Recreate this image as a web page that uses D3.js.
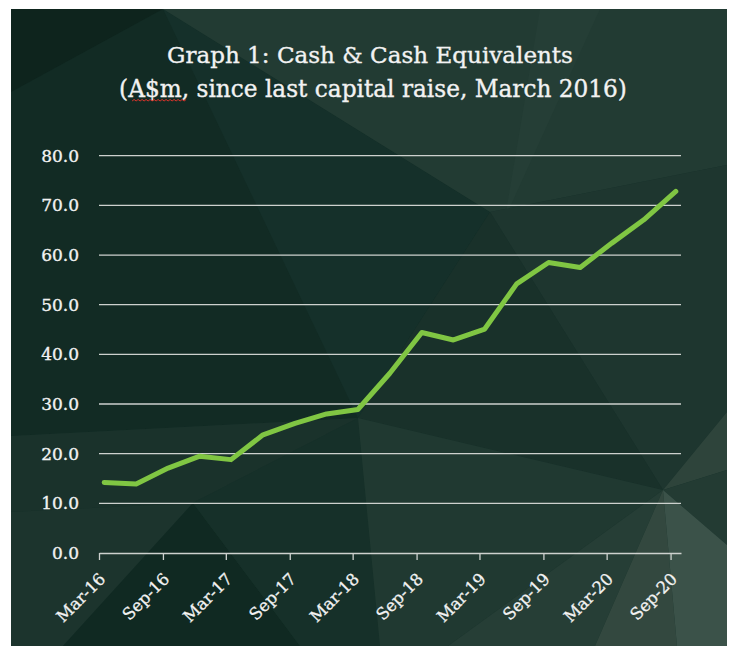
<!DOCTYPE html>
<html>
<head>
<meta charset="utf-8">
<script src="https://cdn.jsdelivr.net/npm/d3@7"></script>
<style>
  html, body { margin: 0; padding: 0; background: #ffffff; }
  svg { display: block; }
</style>
</head>
<body>
<svg id="chart" width="730" height="646"></svg>
<script>
/* ---------- data ------------------------------------------------ */
const quarters = ["2016-03","2016-06","2016-09","2016-12","2017-03","2017-06","2017-09",
                  "2017-12","2018-03","2018-06","2018-09","2018-12","2019-03","2019-06",
                  "2019-09","2019-12","2020-03","2020-06","2020-09"];
const cash     = [14.2, 13.9, 17.1, 19.5, 18.8, 23.8, 26.1, 28.0, 28.9, 36.2,
                  44.4, 42.9, 45.1, 54.2, 58.5, 57.5, 62.4, 67.1, 72.8];
const tickMonths = ["2016-03","2016-09","2017-03","2017-09","2018-03","2018-09",
                    "2019-03","2019-09","2020-03","2020-09"];
const tickLabels = ["Mar-16","Sep-16","Mar-17","Sep-17","Mar-18","Sep-18",
                    "Mar-19","Sep-19","Mar-20","Sep-20"];
const yTicks     = [0, 10, 20, 30, 40, 50, 60, 70, 80];
const titleLines = ["Graph 1: Cash & Cash Equivalents",
                    "(A$m, since last capital raise, March 2016)"];

/* ---------- background facets ----------------------------------- */
const facets = [
  {fill:"#122b24", pts:[[11,9],[163,9],[490,212],[358,418],[11,436]]},
  {fill:"#0e241d", pts:[[11,9],[163,9],[11,92]]},
  {fill:"#15302a", pts:[[163,9],[490,212],[358,418]]},
  {fill:"#223b33", pts:[[163,9],[727,9],[727,165],[490,212]]},
  {fill:"#253e36", pts:[[540,9],[600,9],[505,218]]},
  {fill:"#1e362f", pts:[[490,212],[727,165],[727,412],[663,490]]},
  {fill:"#19312a", pts:[[490,212],[663,490],[358,418]]},
  {fill:"#1a322b", pts:[[11,436],[358,418],[193,503],[11,512]]},
  {fill:"#1c342d", pts:[[11,512],[193,503],[63,646],[11,646]]},
  {fill:"#102922", pts:[[63,646],[193,503],[300,646]]},
  {fill:"#163029", pts:[[193,503],[358,418],[380,646],[300,646]]},
  {fill:"#203931", pts:[[358,418],[663,490],[448,646],[380,646]]},
  {fill:"#263e36", pts:[[663,490],[595,646],[448,646]]},
  {fill:"#33483f", pts:[[663,490],[677,646],[595,646]]},
  {fill:"#2e443b", pts:[[663,490],[727,412],[727,470]]},
  {fill:"#233b33", pts:[[663,490],[727,470],[727,545]]},
  {fill:"#3b5249", pts:[[663,490],[727,545],[727,646],[677,646]]}
];

/* ---------- layout --------------------------------------------- */
const svg = d3.select("#chart");
const panel = {x0: 11, y0: 9, x1: 727, y1: 646};
const plot  = {left: 99, right: 681, top: 155.7, bottom: 553};

svg.append("rect")
   .attr("x", panel.x0).attr("y", panel.y0)
   .attr("width", panel.x1 - panel.x0).attr("height", panel.y1 - panel.y0)
   .attr("fill", "#16302a");

svg.append("g").selectAll("polygon")
   .data(facets)
   .enter().append("polygon")
     .attr("points", d => d.pts.map(p => p.join(",")).join(" "))
     .attr("fill", d => d.fill);

/* ---------- scales ---------------------------------------------- */
const parseMonth = d3.timeParse("%Y-%m");
// each month is a bin; points sit at the middle of their month
const midMonth = s => { const t = parseMonth(s); return new Date(t.getFullYear(), t.getMonth(), 16); };

const x = d3.scaleTime()
    .domain([parseMonth("2016-03"), parseMonth("2020-10")])
    .range([plot.left, plot.right]);
const y = d3.scaleLinear()
    .domain([0, 80])
    .range([plot.bottom, plot.top]);

const gridCol = "#cdd1ce";
const textCol = "#f2f2f2";
const serif   = "'DejaVu Serif', 'Liberation Serif', serif";

/* ---------- gridlines + y labels -------------------------------- */
svg.append("g").selectAll("line")
   .data(yTicks.filter(v => v > 0))
   .enter().append("line")
     .attr("x1", plot.left).attr("x2", plot.right)
     .attr("y1", d => y(d)).attr("y2", d => y(d))
     .attr("stroke", gridCol).attr("stroke-width", 1.3);

svg.append("g").selectAll("text")
   .data(yTicks)
   .enter().append("text")
     .attr("x", 79).attr("y", d => y(d))
     .attr("dy", "0.36em")
     .attr("text-anchor", "end")
     .attr("font-family", serif).attr("font-size", 17)
     .attr("fill", textCol)
     .attr("stroke", textCol).attr("stroke-width", 0.35)
     .text(d3.format(".1f"));

/* ---------- x axis --------------------------------------------- */
const xAxis = d3.axisBottom(x)
    .tickValues(tickMonths.map(parseMonth))
    .tickFormat((d, i) => tickLabels[i])
    .tickSize(7)
    .tickSizeOuter(0);

const axisG = svg.append("g")
    .attr("transform", `translate(0,${plot.bottom})`)
    .call(xAxis);
axisG.select(".domain").attr("stroke", gridCol).attr("stroke-width", 1.3);
axisG.selectAll(".tick line").attr("stroke", gridCol).attr("stroke-width", 1.3);
axisG.selectAll(".tick text")
    .attr("font-family", serif).attr("font-size", 16.5)
    .attr("fill", textCol)
    .attr("stroke", textCol).attr("stroke-width", 0.3)
    .attr("text-anchor", "end")
    .attr("x", 0).attr("y", 0).attr("dy", null)
    .attr("transform", "translate(7,27) rotate(-45)");

/* ---------- line ------------------------------------------------ */
const line = d3.line()
    .x((d, i) => x(midMonth(quarters[i])))
    .y(d => y(d));

svg.append("path")
   .datum(cash)
   .attr("d", line)
   .attr("fill", "none")
   .attr("stroke", "#80c643")
   .attr("stroke-width", 5)
   .attr("stroke-linejoin", "round")
   .attr("stroke-linecap", "round");

/* ---------- title ----------------------------------------------- */
const title = svg.append("g");
const t1 = title.append("text")
    .attr("x", 370).attr("y", 63)
    .attr("text-anchor", "middle")
    .attr("font-family", serif).attr("font-size", 21)
    .attr("fill", textCol)
    .attr("stroke", textCol).attr("stroke-width", 0.35)
    .text(titleLines[0]);
const t2 = title.append("text")
    .attr("x", 373).attr("y", 97)
    .attr("text-anchor", "middle")
    .attr("font-family", serif).attr("font-size", 21)
    .attr("fill", textCol)
    .attr("stroke", textCol).attr("stroke-width", 0.35)
    .text(titleLines[1]);

// fit titles to the measured widths of the original
[[t1, 406], [t2, 508]].forEach(([t, w]) => {
  const len = t.node().getComputedTextLength();
  t.attr("font-size", 21 * w / len);
});

// spell-check squiggle under "A$m"
const t2Box = t2.node().getBBox();
const sqX0 = t2Box.x + 13, sqX1 = sqX0 + 53;
const sq = d3.path();
sq.moveTo(sqX0, 101);
for (let xx = sqX0, k = 0; xx < sqX1; xx += 2, k++) sq.lineTo(xx + 2, k % 2 ? 101 : 99.5);
svg.append("path")
   .attr("d", sq.toString())
   .attr("fill", "none")
   .attr("stroke", "#d9342b")
   .attr("stroke-width", 1);
</script>
</body>
</html>
